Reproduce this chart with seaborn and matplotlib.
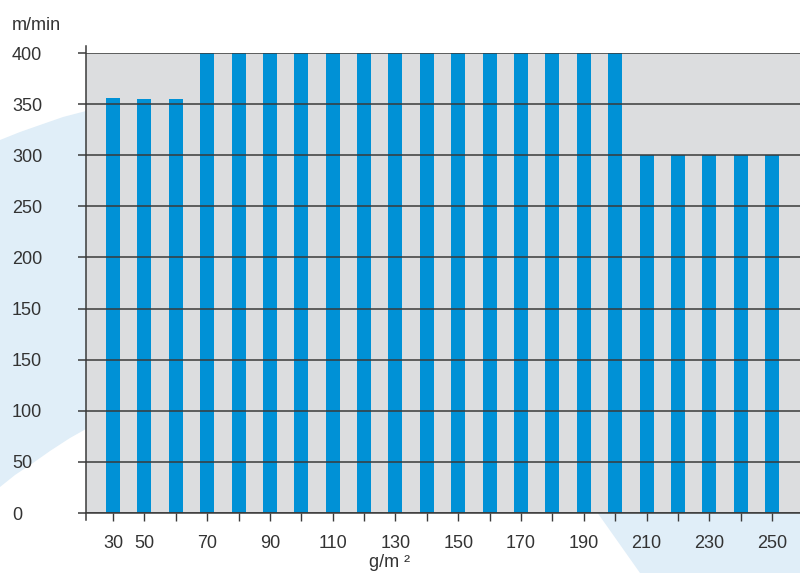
import matplotlib
matplotlib.use("Agg")
import matplotlib.pyplot as plt
from matplotlib.patches import Polygon
import seaborn as sns
import pandas as pd

# ---- data ----
gsm = ["30", "50", "60", "70", "80", "90", "100", "110", "120", "130", "140",
       "150", "160", "170", "180", "190", "200", "210", "220", "230", "240", "250"]
# bar heights in the chart's own (evenly spaced) axis units
speed = [406, 405, 405, 450, 450, 450, 450, 450, 450, 450, 450,
         450, 450, 450, 450, 450, 450, 350, 350, 350, 350, 350]
shown_x_labels = ["30", "50", "70", "90", "110", "130", "150", "170", "190", "210", "230", "250"]
y_tick_pos = [0, 50, 100, 150, 200, 250, 300, 350, 400, 450]
y_tick_labels = ["0", "50", "100", "150", "150", "200", "250", "300", "350", "400"]

df = pd.DataFrame({"gsm": gsm, "speed": speed})

sns.set_theme(style="white")
plt.rcParams["font.family"] = ["Liberation Sans", "DejaVu Sans"]

W, H = 800, 573
fig = plt.figure(figsize=(W / 100, H / 100), dpi=100)
fig.patch.set_facecolor("white")

def px(x, y):
    return (x / W, 1 - y / H)

light = "#e0eef8"
left_shape = [px(*p) for p in [(0, 140), (20, 132), (40, 125), (63, 117), (86, 111),
                               (110, 106), (110, 415), (86, 429), (70, 438),
                               (50, 451), (33, 463), (15, 475), (0, 487)]]
right_shape = [px(*p) for p in [(592, 505), (800, 505), (800, 573), (640, 573)]]
for shp in (left_shape, right_shape):
    fig.add_artist(Polygon(shp, closed=True, transform=fig.transFigure,
                           facecolor=light, edgecolor="none", zorder=-5))

ax = fig.add_axes([86 / W, 60 / H, 714 / W, 460 / H])
ax.set_facecolor("#dcdddf")

sns.barplot(data=df, x="gsm", y="speed", order=gsm, color="#0091d6",
            saturation=1, width=0.445, ax=ax, zorder=1, linewidth=0,
            edgecolor="none")

ax.set_xlim(-0.86, 21.89)
ax.set_ylim(0, 450)

dark = "#3a3a3a"
ax.set_axisbelow(False)
ax.set_yticks(y_tick_pos)
ax.set_yticklabels(y_tick_labels)
ax.yaxis.grid(True, color=dark, linewidth=1.1)
ax.xaxis.grid(False)

ax.set_xticks(range(len(gsm)))
ax.set_xticklabels([g if g in shown_x_labels else "" for g in gsm])

ax.tick_params(axis="y", left=True, length=5.8, width=1.1, color=dark,
               pad=47.5, labelsize=13, labelcolor="#333333")
for t in ax.get_yticklabels():
    t.set_horizontalalignment("left")
ax.tick_params(axis="x", bottom=True, direction="out", length=5.8, width=1.0,
               color=dark, pad=10, labelsize=13, labelcolor="#333333")

for s in ["top", "right"]:
    ax.spines[s].set_visible(False)
ax.spines["bottom"].set_color(dark)
ax.spines["bottom"].set_linewidth(1.1)
ax.spines["left"].set_color(dark)
ax.spines["left"].set_linewidth(1.1)
ax.spines["left"].set_bounds(-7, 457)
ax.spines["left"].set_clip_on(False)

ax.set_xlabel("")
ax.set_ylabel("")

fig.text(12 / W, 1 - 30 / H, "m/min", ha="left", va="baseline",
         fontsize=13, color="#333333")
fig.text(390 / W, 1 - 567 / H, "g/m ²", ha="center", va="baseline",
         fontsize=13, color="#333333")

fig.savefig("out.png", dpi=100, facecolor="white")
